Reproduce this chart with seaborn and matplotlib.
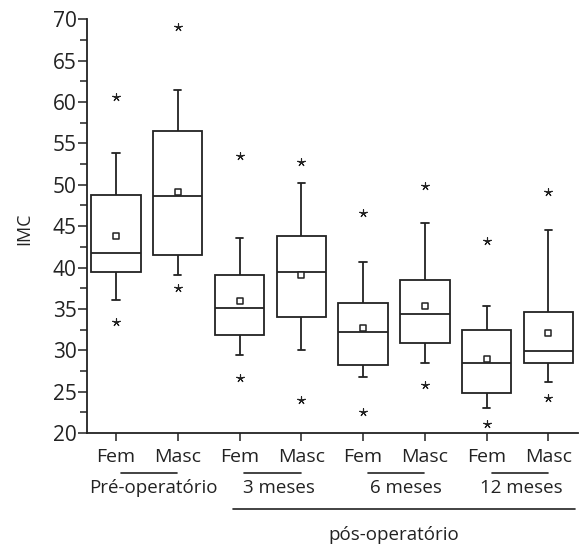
import numpy as np
import pandas as pd
import matplotlib
matplotlib.use("Agg")
import matplotlib.pyplot as plt
import seaborn as sns

# grupos (sexo x momento) e resumo de cada caixa
grupos = ["Fem pré", "Masc pré", "Fem 3m", "Masc 3m", "Fem 6m", "Masc 6m", "Fem 12m", "Masc 12m"]
rotulos_x = ["Fem", "Masc"] * 4
bigode_inf = [36.1, 39.1, 29.4, 30.0, 26.8, 28.4, 23.0, 26.2]
q1 = [39.4, 41.5, 31.9, 34.0, 28.2, 30.9, 24.8, 28.5]
medianas = [41.7, 48.7, 35.1, 39.4, 32.2, 34.4, 28.4, 29.9]
q3 = [48.75, 56.5, 39.1, 43.8, 35.7, 38.5, 32.5, 34.6]
bigode_sup = [53.9, 61.45, 43.6, 50.2, 40.7, 45.4, 35.4, 44.5]
medias = [43.8, 49.1, 36.0, 39.1, 32.7, 35.4, 28.9, 32.1]
extremo_sup = [60.6, 69.1, 53.5, 52.7, 46.6, 49.8, 43.2, 49.1]
extremo_inf = [33.4, 37.5, 26.7, 24.0, 22.5, 25.8, 21.1, 24.2]

periodos = ["Pré-operatório", "3 meses", "6 meses", "12 meses"]
periodo_x = [0.61, 2.64, 4.69, 6.56]

sns.set_style("ticks")
plt.rcParams["font.family"] = ["Open Sans", "DejaVu Sans"]
cor = "#222222"

# 5 valores por grupo: com whis=inf o boxplot usa min, Q1, mediana, Q3, max
linhas = []
for g, a, b, c, d, e in zip(grupos, bigode_inf, q1, medianas, q3, bigode_sup):
    for v in (a, b, c, d, e):
        linhas.append({"grupo": g, "IMC": v})
df = pd.DataFrame(linhas)

fig = plt.figure(figsize=(5.82, 5.44), dpi=100)
ax = fig.add_axes([87 / 582, 111 / 544, 491 / 582, 413.7 / 544])

sns.boxplot(data=df, x="grupo", y="IMC", order=grupos, whis=np.inf, width=0.8,
            color="white", linecolor=cor, linewidth=1.3, capwidths=0.12, ax=ax)

pos = np.arange(len(grupos))
sns.scatterplot(x=pos, y=medias, marker="s", s=22, color="white",
                edgecolor=cor, linewidth=1.1, zorder=5, ax=ax)
sns.scatterplot(x=np.concatenate([pos, pos]), y=extremo_sup + extremo_inf,
                marker=(5, 2, 0), s=30, color=cor, linewidth=0.8, ax=ax)

ax.set_xlim(-0.47, 7.48)
ax.set_ylim(20, 70)
ax.set_xticks(pos)
ax.set_xticklabels(rotulos_x)
ax.set_yticks(np.arange(20, 71, 5))
ax.set_yticks(np.arange(22.5, 70, 5), minor=True)
ax.set_xlabel("")
ax.set_ylabel("")
sns.despine(ax=ax)
for s in ("left", "bottom"):
    ax.spines[s].set_linewidth(1.3)
    ax.spines[s].set_color(cor)

ax.tick_params(axis="y", which="major", length=6.5, width=1.1, pad=1,
               labelsize=15, color=cor, labelcolor=cor)
ax.tick_params(axis="y", which="minor", length=5, width=1.1, color=cor)
ax.tick_params(axis="x", length=6, width=1.1, pad=5, labelsize=14,
               color=cor, labelcolor=cor)

fig.text(24 / 582, (544 - 229) / 544, "IMC", rotation=90, ha="center",
         va="center", fontsize=13, color=cor)

trans = ax.get_xaxis_transform()
for i in range(4):
    ax.plot([2 * i + 0.08, 2 * i + 0.99], [-0.096, -0.096], transform=trans,
            clip_on=False, color=cor, lw=1.2)
    ax.text(periodo_x[i], -0.133, periodos[i], transform=trans, ha="center",
            va="center", fontsize=13.5, color=cor)
ax.plot([1.89, 7.43], [-0.184, -0.184], transform=trans, clip_on=False,
        color=cor, lw=1.2)
ax.text(4.49, -0.247, "pós-operatório", transform=trans, ha="center",
        va="center", fontsize=13.5, color=cor)

fig.savefig("out.png", dpi=100)
